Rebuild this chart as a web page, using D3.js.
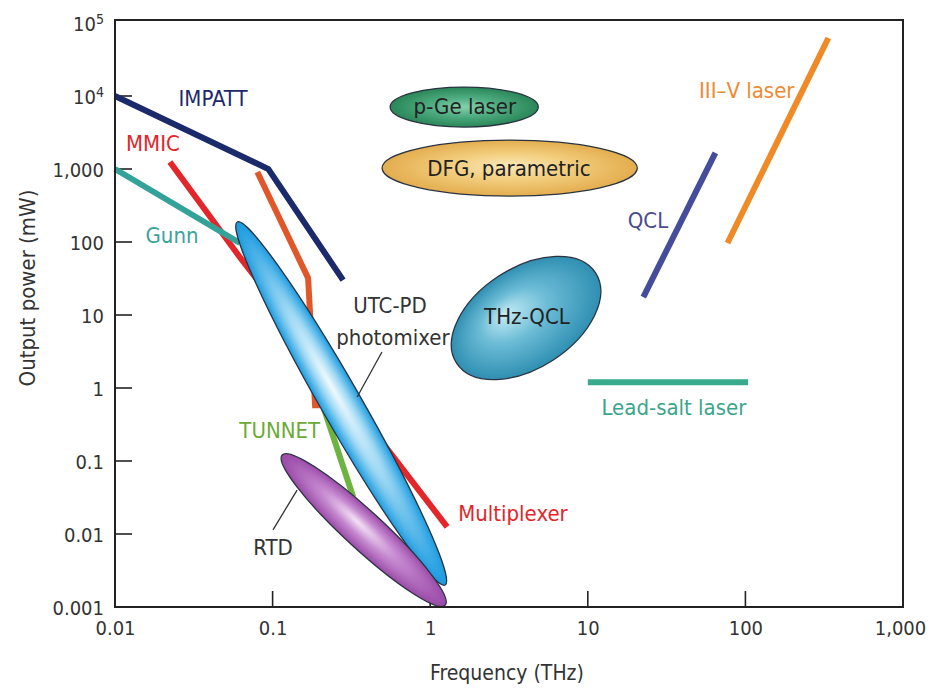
<!DOCTYPE html>
<html>
<head>
<meta charset="utf-8">
<script src="https://cdn.jsdelivr.net/npm/d3@7"></script>
<style>
  html, body { margin: 0; padding: 0; background: #fff; }
  svg { display: block; }
  text { font-family: "Liberation Sans Narrow", "DejaVu Sans Condensed", "Roboto", sans-serif; }
</style>
</head>
<body>
<svg id="chart" width="930" height="693"></svg>
<script>
// ---------------- data ----------------
const xTicks = [0.01, 0.1, 1, 10, 100, 1000];
const xTickLabels = ["0.01", "0.1", "1", "10", "100", "1,000"];
const yTicks = [0.001, 0.01, 0.1, 1, 10, 100, 1000, 1e4, 1e5];
const yTickLabels = ["0.001", "0.01", "0.1", "1", "10", "100", "1,000", "10^4", "10^5"];

// line-type sources: [frequency THz, power mW]
const impatt    = [[0.01, 10000], [0.094, 1000], [0.28, 30]];
const mmic      = [[0.0223, 1250], [0.062, 62], [1.28, 0.0125]];
const multiplier= [[0.080, 910], [0.168, 32], [0.186, 0.58], [0.2, 0.58]];
const gunn      = [[0.01, 1000], [0.062, 97]];
const tunnet    = [[0.21, 0.55], [0.325, 0.032]];
const qcl       = [[22.5, 17.6], [64.5, 1660]];
const iiiV      = [[77, 97], [336, 62300]];
const leadSalt  = [[10, 1.2], [104, 1.2]];

// ellipse-type sources: major-axis end points [f1, p1, f2, p2]
const blobNames = ["DFG", "pGe", "THzQCL", "UTCPD", "RTD"];
const blobAxes  = [
  [0.495, 1030, 20.6, 1030],
  [0.557, 7060, 4.85, 7060],
  [1.47, 2.19, 11.2, 37.8],
  [0.0596, 188, 1.245, 0.002],
  [0.115, 0.121, 1.245, 0.00106]
];

// labels: [text, frequency, power]
const labels = [
  ["IMPATT", 0.0419, 9400],
  ["MMIC", 0.0174, 2270],
  ["Gunn", 0.023, 125],
  ["TUNNET", 0.111, 0.266],
  ["RTD", 0.1006, 0.0066],
  ["UTC-PD", 0.556, 13.7],
  ["photomixer", 0.58, 5.0],
  ["Multiplexer", 3.35, 0.0194],
  ["QCL", 24.1, 200],
  ["III\u2013V laser", 102, 12100],
  ["Lead-salt laser", 35.2, 0.55],
  ["p-Ge laser", 1.66, 7300],
  ["DFG, parametric", 3.16, 1030],
  ["THz-QCL", 4.11, 9.7]
];
// leader lines: [f1, p1, f2, p2]
const leaders = [
  [0.494, 3.11, 0.344, 0.754],
  [0.143, 0.040, 0.1006, 0.0114]
];

// ---------------- styles ----------------
const lineStyles = [
  [mmic, "#e2262a"],
  [multiplier, "#e0582a"],
  [gunn, "#33a39a"],
  [impatt, "#1b2a6b"],
  [tunnet, "#6db33f"],
  [qcl, "#454c9c"],
  [iiiV, "#f08a26"],
  [leadSalt, "#3aaa8c"]
];
const blobStyle = {
  DFG:    { half: 28, stops: ["#fbe7b8", "#f3cf80", "#e3ad4e"], fx: 0.5, fy: 0.45 },
  pGe:    { half: 20, stops: ["#86d0ab", "#4fae82", "#2a8658"], fx: 0.5, fy: 0.5 },
  THzQCL: { half: 50, stops: ["#c6ecf4", "#6cbcd6", "#2f8fb2"], fx: 0.4, fy: 0.35 },
  UTCPD:  { half: 20, stops: ["#f2fbff", "#9ed8f4", "#1a9be0"], fx: 0.45, fy: 0.5 },
  RTD:    { half: 19, stops: ["#f3e2f5", "#c68ad0", "#9a4aa8"], fx: 0.45, fy: 0.45 }
};
const labelColors = {
  "IMPATT": "#1b2a6b", "MMIC": "#e2262a", "Gunn": "#3aa39a", "TUNNET": "#6aaa35",
  "RTD": "#333", "UTC-PD": "#333", "photomixer": "#333", "Multiplexer": "#e2262a",
  "QCL": "#4a4c8c", "III\u2013V laser": "#ee8a30", "Lead-salt laser": "#3aa58c",
  "p-Ge laser": "#222", "DFG, parametric": "#222", "THz-QCL": "#222"
};

// ---------------- chart ----------------
const svg = d3.select("#chart");
const x = d3.scaleLog().domain([0.01, 1000]).range([115, 903]);
const y = d3.scaleLog().domain([0.001, 1e5]).range([607, 23]);

const defs = svg.append("defs");
blobNames.forEach(n => {
  const s = blobStyle[n];
  const g = defs.append("radialGradient").attr("id", "g-" + n)
    .attr("cx", 0.5).attr("cy", 0.5).attr("r", 0.5).attr("fx", s.fx).attr("fy", s.fy);
  g.append("stop").attr("offset", "0%").attr("stop-color", s.stops[0]);
  g.append("stop").attr("offset", "45%").attr("stop-color", s.stops[1]);
  g.append("stop").attr("offset", "100%").attr("stop-color", s.stops[2]);
});

// axes ticks
const gx = svg.append("g").attr("transform", `translate(0,${y(0.001)})`)
  .call(d3.axisBottom(x).tickValues(xTicks).tickFormat((d, i) => xTickLabels[i]).tickSize(0).tickPadding(14));
gx.select(".domain").remove();
gx.selectAll("text").attr("font-size", 20).attr("fill", "#333").attr("font-family", null)
  .attr("dx", (d, i) => i === xTicks.length - 1 ? -3 : 0);

const gy = svg.append("g").attr("transform", `translate(${x(0.01)},0)`)
  .call(d3.axisLeft(y).tickValues(yTicks).tickFormat("").tickSize(0));
gy.select(".domain").remove();
gy.selectAll(".tick").each(function(d, i) {
  const t = d3.select(this).append("text")
    .attr("x", -11).attr("dy", "0.35em").attr("text-anchor", "end")
    .attr("font-size", 20).attr("fill", "#333");
  const lab = yTickLabels[i];
  if (lab.indexOf("^") >= 0) {
    const parts = lab.split("^");
    t.append("tspan").text(parts[0]);
    t.append("tspan").attr("dy", "-0.5em").attr("font-size", 14).text(parts[1]);
  } else t.text(lab);
});

// inner tick marks
svg.append("g").selectAll("line").data(yTicks.filter(d => d > 0.001 && d < 1e5)).join("line")
  .attr("x1", x(0.01)).attr("x2", x(0.01) + 17)
  .attr("y1", d => y(d)).attr("y2", d => y(d))
  .attr("stroke", "#222").attr("stroke-width", 1.6);
svg.append("g").selectAll("line").data(xTicks.filter(d => d > 0.01 && d < 1000)).join("line")
  .attr("x1", d => x(d)).attr("x2", d => x(d))
  .attr("y1", y(0.001)).attr("y2", y(0.001) - 16)
  .attr("stroke", "#222").attr("stroke-width", 1.6);

// source lines
const line = d3.line().x(d => x(d[0])).y(d => y(d[1]));
svg.append("g").selectAll("path").data(lineStyles).join("path")
  .attr("d", d => line(d[0]))
  .attr("fill", "none").attr("stroke", d => d[1])
  .attr("stroke-width", 6).attr("stroke-linejoin", "miter").attr("stroke-linecap", "butt");

// ellipses
const blobs = svg.append("g");
blobNames.forEach((n, i) => {
  const a = blobAxes[i];
  const x1 = x(a[0]), y1 = y(a[1]), x2 = x(a[2]), y2 = y(a[3]);
  const cx = (x1 + x2) / 2, cy = (y1 + y2) / 2;
  const rx = Math.hypot(x2 - x1, y2 - y1) / 2;
  const ang = Math.atan2(y2 - y1, x2 - x1) * 180 / Math.PI;
  blobs.append("ellipse")
    .attr("transform", `translate(${cx},${cy}) rotate(${ang})`)
    .attr("rx", rx).attr("ry", blobStyle[n].half)
    .attr("fill", `url(#g-${n})`)
    .attr("stroke", "#2a3440").attr("stroke-width", 1.3);
});

// leader lines
svg.append("g").selectAll("line").data(leaders).join("line")
  .attr("x1", d => x(d[0])).attr("y1", d => y(d[1]))
  .attr("x2", d => x(d[2])).attr("y2", d => y(d[3]))
  .attr("stroke", "#333").attr("stroke-width", 1.3);

// labels
svg.append("g").selectAll("text").data(labels).join("text")
  .attr("x", d => x(d[1])).attr("y", d => y(d[2]))
  .attr("dy", "0.35em").attr("text-anchor", "middle")
  .attr("font-size", 22).attr("fill", d => labelColors[d[0]])
  .text(d => d[0]);

// frame
svg.append("path")
  .attr("d", `M${x(0.01)},${y(1e5) - 3} H${x(1000)} V${y(0.001)} H${x(0.01)} Z`)
  .attr("fill", "none").attr("stroke", "#222").attr("stroke-width", 2);

// axis titles
svg.append("text").attr("x", 507).attr("y", 673).attr("dy", "0.35em")
  .attr("text-anchor", "middle").attr("font-size", 21).attr("fill", "#333")
  .text("Frequency (THz)");
svg.append("text").attr("transform", "translate(27,288) rotate(-90)").attr("dy", "0.35em")
  .attr("text-anchor", "middle").attr("font-size", 22).attr("fill", "#333")
  .text("Output power (mW)");
</script>
</body>
</html>
